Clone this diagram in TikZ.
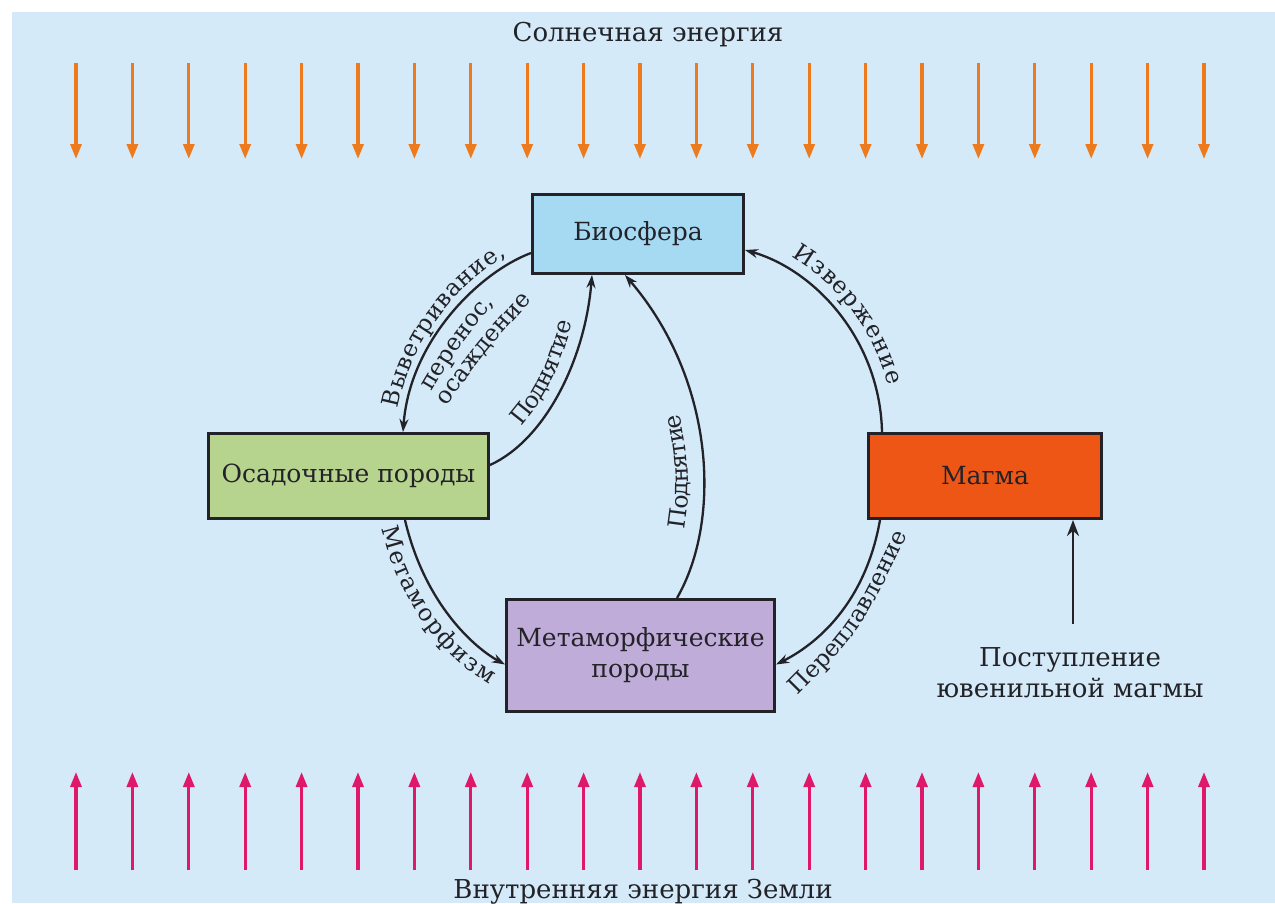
\documentclass[tikz,border=0pt]{standalone}
\usepackage{fontspec}
\setmainfont{DejaVu Serif}
\usetikzlibrary{arrows.meta,decorations.text}
\definecolor{bgblue}{RGB}{212,234,248}
\definecolor{biofill}{RGB}{166,217,242}
\definecolor{sedfill}{RGB}{183,212,142}
\definecolor{magfill}{RGB}{238,86,22}
\definecolor{metfill}{RGB}{192,172,216}
\definecolor{ink}{RGB}{34,34,40}
\definecolor{sunc}{RGB}{238,122,30}
\definecolor{heatc}{RGB}{224,24,106}
\newcommand\myboxfont{\fontsize{25}{31}\selectfont}
\newcommand\mylblfont{\fontsize{23.5}{27}\selectfont\color{ink}}
\newcommand\mytitlefont{\fontsize{26}{31}\selectfont}
\begin{document}
\begin{tikzpicture}[x=1pt,y=1pt,
  box/.style={draw=ink, line width=3pt, inner sep=0pt, align=center, font=\myboxfont, text=ink},
  conn/.style={draw=ink, line width=2.3pt, -{Stealth[length=13pt,width=9pt]}},
  bigconn/.style={draw=ink, line width=2.6pt, -{Stealth[length=16pt,width=12pt]}},
  sunarrow/.style={draw=sunc, line width=3.2pt, -{Triangle[length=15pt,width=11pt]}},
  heatarrow/.style={draw=heatc, line width=3.2pt, -{Triangle[length=15pt,width=11pt]}},
  title/.style={font=\mytitlefont, text=ink, inner sep=0pt},
  curvelabel/.style 2 args={decorate, decoration={text along path, text align=center, raise=#1, text={|\mylblfont|#2}}}
]
\useasboundingbox (0,0) rectangle (1275,-903);
\clip (0,0) rectangle (1275,-903);
\fill[white] (0,0) rectangle (1275,-903);
\fill[bgblue] (12,-12) rectangle (1275,-903);

% energy flows
\node[title] (suntitle) at (648,-35) {Солнечная энергия};
\foreach \i in {0,...,20}{
  \coordinate (st\i) at ({76+56.4*\i},-63);
  \coordinate (sb\i) at ({76+56.4*\i},-159);
  \draw[sunarrow] (st\i) -- (sb\i);
  \coordinate (ht\i) at ({76+56.4*\i},-772);
  \coordinate (hb\i) at ({76+56.4*\i},-870);
  \draw[heatarrow] (hb\i) -- (ht\i);
}
\node[title, anchor=base] (earthtitle) at (643,-898) {Внутренняя энергия Земли};

% boxes
\node[box, fill=biofill, minimum width=211pt, minimum height=79pt] (bio) at (638,-234) {Биосфера};
\node[box, fill=sedfill, minimum width=280pt, minimum height=85pt] (sed) at (348.5,-476) {Осадочные породы};
\node[box, fill=magfill, minimum width=233pt, minimum height=85pt] (mag) at (985,-476) {Магма};
\node[box, fill=metfill, minimum width=268pt, minimum height=112pt] (met) at (640.5,-655.5) {Метаморфические\\породы};

% connectors
\draw[conn] ([yshift=-19pt]bio.west) .. controls (480,-272) and (410,-340) .. ([xshift=54.5pt]sed.north);
\draw[conn] ([yshift=11pt]sed.east) .. controls (545,-440) and (585,-360) .. ([xshift=-46pt]bio.south);
\draw[conn] ([xshift=36.5pt]met.north) .. controls (722,-520) and (715,-380) .. ([xshift=-13pt]bio.south);
\draw[conn] ([xshift=-103pt]mag.north) .. controls (880,-340) and (815,-270) .. ([yshift=-16pt]bio.east);
\draw[conn] ([xshift=-105pt]mag.south) .. controls (865,-605) and (815,-645) .. ([yshift=-9pt]met.east);
\draw[conn] ([xshift=56.5pt]sed.south) .. controls (425,-605) and (475,-648) .. ([yshift=-9pt]met.west);
\coordinate (juvbase) at (1073,-624);
\draw[bigconn] (juvbase) -- (mag.south -| juvbase);
\node[title, align=center, font=\fontsize{26}{31}\selectfont] (juvtext) at (1070,-673) {Поступление\\ювенильной магмы};

% curved labels
\path[curvelabel={8pt}{Выветривание,}] ([xshift=54.5pt]sed.north) .. controls (410,-340) and (480,-272) .. ([yshift=-19pt]bio.west);
\path[curvelabel={0pt}{перенос,}] (426,-402) .. controls (459.6,-345) .. (502,-294);
\path[curvelabel={0pt}{осаждение}] (436,-420) .. controls (486,-350.7) .. (544,-288);
\path[curvelabel={12pt}{Поднятие}] ([yshift=11pt]sed.east) .. controls (545,-440) and (585,-360) .. ([xshift=-46pt]bio.south);
\path[decorate, decoration={text along path, text align={left indent=71pt}, raise=16pt, text={|\mylblfont|Поднятие}}] ([xshift=36.5pt]met.north) .. controls (722,-520) and (715,-380) .. ([xshift=-13pt]bio.south);
\path[curvelabel={12pt}{Извержение}] ([yshift=-16pt]bio.east) .. controls (815,-270) and (880,-340) .. ([xshift=-103pt]mag.north);
\path[curvelabel={0pt}{Переплавление}] (790,-703) .. controls (860.3,-632.7) .. (912,-525);
\path[curvelabel={-25pt}{Метаморфизм}] ([xshift=56.5pt]sed.south) .. controls (425,-605) and (475,-648) .. ([yshift=-9pt]met.west);
\end{tikzpicture}
\end{document}
